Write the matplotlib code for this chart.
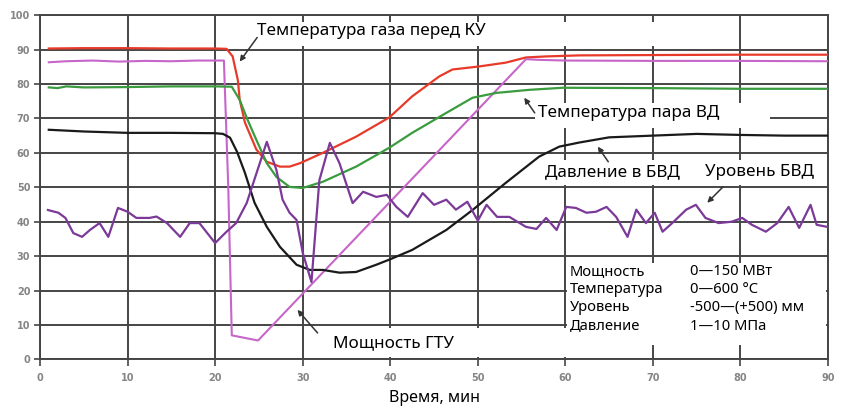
import numpy as np
import matplotlib
matplotlib.use('Agg')
import matplotlib.pyplot as plt
from matplotlib.patches import Rectangle

# values, time in minutes, scaled units 0-100
t_gas = [1, 5, 10, 15, 20, 21.3, 22, 22.6, 22.8, 23.4, 24.7, 25.9, 27.4, 28.5,
         29.7, 32.3, 36.1, 39.9, 42.5, 45.6, 47.1, 50.2, 53.2, 55.5, 57.8,
         61.6, 70, 80, 90]
gas_temp = [90.3, 90.4, 90.4, 90.3, 90.3, 90.2, 88, 81, 75.5, 68.8, 61, 57.4,
            56, 56, 57, 60, 64.7, 70.3, 76.4, 82.2, 84.2, 85.1, 86.2, 87.7,
            88, 88.3, 88.4, 88.5, 88.5]

t_gtu = [1, 3, 6, 9, 12, 15, 18, 21.0, 21.5, 21.9, 24.9, 55.5, 57, 60, 70, 80,
         90]
gtu_power = [86.3, 86.6, 86.8, 86.5, 86.7, 86.6, 86.8, 86.8, 50, 7, 5.5, 87.2,
             87, 86.8, 86.7, 86.7, 86.6]

t_steam = [1, 2, 3, 5, 10, 15, 20, 21.9, 22.8, 23.7, 24.7, 25.9, 27, 28.5, 30,
           32.3, 36.1, 39.9, 42.5, 46.4, 49.4, 52.1, 55.9, 59.7, 70, 80, 90]
steam_temp = [79, 78.8, 79.3, 79, 79.1, 79.3, 79.3, 79.2, 75.4, 69.6, 63.8,
              57, 53, 50.1, 49.8, 51.6, 56, 61.5, 65.8, 71.6, 76, 77.4, 78.3,
              78.9, 78.8, 78.6, 78.6]

t_press = [1, 5, 10, 15, 20, 20.9, 21.7, 22.5, 23.4, 24.5, 25.9, 27.4, 29.3,
           30.8, 32.3, 34.2, 36.1, 38.4, 39.9, 42.5, 46.4, 49.4, 53.2, 57,
           59.3, 61.6, 65, 70, 75, 80, 85, 90]
pressure = [66.7, 66.2, 65.8, 65.8, 65.7, 65.5, 64.4, 60.3, 54.2, 45.5, 38.5,
            32.7, 27.5, 26, 26, 25.2, 25.4, 27.5, 29, 31.8, 37.6, 43.4, 51.3,
            58.9, 61.8, 63, 64.5, 65, 65.5, 65.2, 65, 65]

t_level = [0.9, 2.1, 2.9, 3.8, 4.8, 5.7, 6.8, 7.8, 8.9, 10, 11, 12.5, 13.3,
           14.5, 16, 17.1, 18.2, 20, 21.3, 22.4, 23.6, 25.9, 27, 27.7, 28.5,
           29.3, 30, 31, 31.9, 33.1, 34.2, 35.7, 36.9, 38.4, 39.6, 40.7, 42,
           43.7, 45, 46.4, 47.5, 48.8, 50, 51, 52.2, 53.6, 55.5, 56.7, 57.8,
           59, 60.1, 61.2, 62.4, 63.5, 64.7, 65.8, 67.1, 68.1, 69.2, 70.2,
           71.1, 72.2, 73.8, 74.9, 76, 77.5, 79, 80.2, 81.3, 82.9, 84.2, 85.5,
           86.7, 88, 88.7, 89.9]
level = [43.4, 42.6, 41.1, 36.7, 35.6, 37.6, 39.6, 35.6, 44, 42.9, 41.1, 41.1,
         41.5, 39.6, 35.6, 39.6, 39.6, 33.8, 37.1, 39.6, 45.4, 63.2, 55, 46.4,
         42.6, 40.5, 31, 22.5, 52, 62.9, 57, 45.4, 48.7, 47.2, 47.8, 44.3,
         41.4, 48.3, 44.9, 46.4, 43.5, 45.8, 40.3, 44.9, 41.4, 41.4, 38.5,
         37.9, 41.1, 37.6, 44.3, 44, 42.6, 42.9, 44.3, 41.4, 35.6, 43.5, 39.6,
         42.6, 37.1, 39.6, 43.5, 44.9, 41.1, 39.6, 40, 41.1, 39.1, 37.1, 39.6,
         44.3, 38.2, 44.9, 39.1, 38.5]

scale_names = ['Мощность', 'Температура', 'Уровень', 'Давление']
scale_ranges = ['0—150 МВт', '0—600 °C', '-500—(+500) мм', '1—10 МПа']

xticks = np.arange(0, 91, 10)
yticks = np.arange(0, 101, 10)

txt_font = 'Noto Sans'
grid_col = '#454545'

fig = plt.figure(figsize=(8.41, 4.08), dpi=100)
ax = fig.add_axes([0.0476, 0.119, 0.937, 0.844])

ax.plot(t_gas, gas_temp, color='#e83a2a', lw=1.6, zorder=3)
ax.plot(t_gtu, gtu_power, color='#c666c9', lw=1.5, zorder=3)
ax.plot(t_steam, steam_temp, color='#3a9c3e', lw=1.6, zorder=3)
ax.plot(t_press, pressure, color='#1a1a1a', lw=1.6, zorder=3)
ax.plot(t_level, level, color='#7b3a98', lw=1.6, zorder=3)

ax.set_xlim(0, 90)
ax.set_ylim(0, 100)
ax.set_xticks(xticks)
ax.set_yticks(yticks)
ax.grid(True, color=grid_col, lw=1.4, zorder=1)
ax.set_axisbelow(True)
for s in ax.spines.values():
    s.set_color(grid_col)
    s.set_linewidth(1.4)
ax.tick_params(axis='both', direction='out', color=grid_col, width=1.2,
               labelcolor='#858585', labelsize=7)
ax.tick_params(axis='y', length=4, pad=3)
ax.tick_params(axis='x', length=5, pad=5)
for lab in ax.get_xticklabels() + ax.get_yticklabels():
    lab.set_fontweight('bold')

ax.set_xlabel('Время, мин', family=txt_font, fontsize=11.5, labelpad=5)

# white label boxes
boxes = [(24.5, 91.1, 46.0, 7.0), (56.5, 67.3, 26.9, 7.3),
         (57.3, 50.7, 32.0, 7.3), (33.1, 0.8, 27.2, 8.2),
         (60.2, 4.2, 29.6, 23.8)]
for bx, by, bw, bh in boxes:
    ax.add_patch(Rectangle((bx, by), bw, bh, facecolor='white',
                           edgecolor='none', zorder=4))

fs = 12.3
ax.text(24.8, 95.3, 'Температура газа перед КУ', family=txt_font,
        fontsize=fs, va='center', zorder=5)
ax.text(56.9, 71.5, 'Температура пара ВД', family=txt_font, fontsize=fs,
        va='center', zorder=5)
ax.text(57.7, 54.3, 'Давление в БВД', family=txt_font, fontsize=fs,
        va='center', zorder=5)
ax.text(76.0, 54.3, 'Уровень БВД', family=txt_font, fontsize=fs,
        va='center', zorder=5)
ax.text(33.5, 4.8, 'Мощность ГТУ', family=txt_font, fontsize=fs,
        va='center', zorder=5)

ys = [25.4, 20.2, 15.0, 9.7]
for name, rng, yy in zip(scale_names, scale_ranges, ys):
    ax.text(60.5, yy, name, family=txt_font, fontsize=10.6, va='center',
            zorder=5)
    ax.text(74.2, yy, rng, family=txt_font, fontsize=10.6, va='center',
            zorder=5)

arrows = [((24.8, 93.5), (22.8, 86.5)), ((56.5, 71.6), (55.3, 76.0)),
          ((64.9, 57.4), (63.7, 61.8)), ((78.0, 50.1), (76.2, 45.5)),
          ((31.7, 7.7), (29.4, 14.4))]
for start, end in arrows:
    ax.annotate('', xy=end, xytext=start, zorder=6,
                arrowprops=dict(arrowstyle='-|>', color='#333333', lw=1.1,
                                mutation_scale=8, shrinkA=0, shrinkB=0))

plt.savefig('out.png', dpi=100)
